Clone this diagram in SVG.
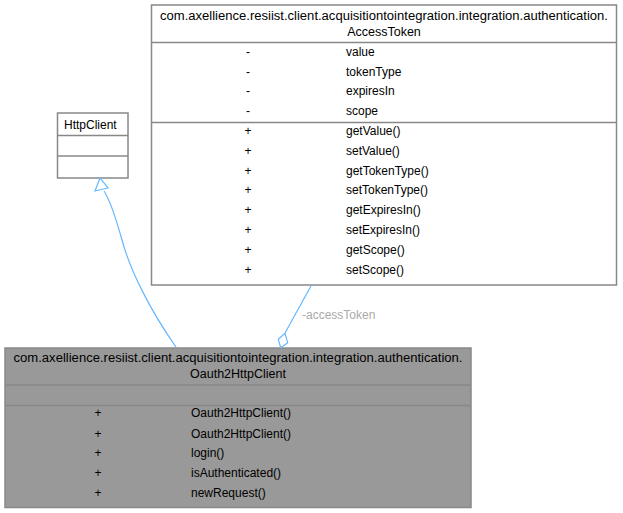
<svg xmlns="http://www.w3.org/2000/svg" width="623" height="513" viewBox="0 0 623 513">
<style>
text{font-family:"Liberation Sans",Arial,sans-serif;font-size:12px;fill:#000}
.t{font-size:12.5px}
.box{stroke:#888;stroke-width:1.5}
.sep{stroke:#888;stroke-width:1.5}
.c{text-anchor:middle}
.edge{fill:none;stroke:#63b8ff;stroke-width:1.2}
.lbl{fill:#aaaaaa}
</style>
<rect width="623" height="513" fill="#fff"/>
<g id="AccessToken">
<rect class="box" x="151.5" y="5" width="465" height="280" fill="#fff"/>
<line class="sep" x1="151.5" y1="42.5" x2="616.5" y2="42.5"/>
<line class="sep" x1="151.5" y1="122.5" x2="616.5" y2="122.5"/>
<text class="c t" x="384" y="20" textLength="448" lengthAdjust="spacingAndGlyphs">com.axellience.resiist.client.acquisitiontointegration.integration.authentication.</text>
<text class="c t" x="384" y="36">AccessToken</text>
<text class="c" x="248" y="56">-</text><text x="346" y="56">value</text>
<text class="c" x="248" y="76">-</text><text x="346" y="76">tokenType</text>
<text class="c" x="248" y="95">-</text><text x="346" y="95">expiresIn</text>
<text class="c" x="248" y="115">-</text><text x="346" y="115">scope</text>
<text class="c" x="248" y="135">+</text><text x="346" y="135">getValue()</text>
<text class="c" x="248" y="155">+</text><text x="346" y="155">setValue()</text>
<text class="c" x="248" y="175">+</text><text x="346" y="175">getTokenType()</text>
<text class="c" x="248" y="194">+</text><text x="346" y="194">setTokenType()</text>
<text class="c" x="248" y="214">+</text><text x="346" y="214">getExpiresIn()</text>
<text class="c" x="248" y="234">+</text><text x="346" y="234">setExpiresIn()</text>
<text class="c" x="248" y="254">+</text><text x="346" y="254">getScope()</text>
<text class="c" x="248" y="274">+</text><text x="346" y="274">setScope()</text>
</g>
<g id="HttpClient">
<rect class="box" x="57.5" y="113" width="70.5" height="65" fill="#fff"/>
<line class="sep" x1="57.5" y1="135.5" x2="128" y2="135.5"/>
<line class="sep" x1="57.5" y1="156" x2="128" y2="156"/>
<text x="64" y="129">HttpClient</text>
</g>
<g id="Oauth2HttpClient">
<rect class="box" x="5" y="348" width="466" height="159.5" fill="#999"/>
<line class="sep" x1="5" y1="385" x2="471" y2="385"/>
<line class="sep" x1="5" y1="405.5" x2="471" y2="405.5"/>
<text class="c t" x="238" y="362" textLength="449" lengthAdjust="spacingAndGlyphs">com.axellience.resiist.client.acquisitiontointegration.integration.authentication.</text>
<text class="c t" x="238" y="378">Oauth2HttpClient</text>
<text class="c" x="98" y="417">+</text><text x="191" y="417">Oauth2HttpClient()</text>
<text class="c" x="98" y="438">+</text><text x="191" y="438">Oauth2HttpClient()</text>
<text class="c" x="98" y="457">+</text><text x="191" y="457">login()</text>
<text class="c" x="98" y="477">+</text><text x="191" y="477">isAuthenticated()</text>
<text class="c" x="98" y="497">+</text><text x="191" y="497">newRequest()</text>
</g>
<g id="connectors">
<path class="edge" d="M176,347 C150,310 130,270 122,240 C115,215 110,200 104,191"/>
<polygon points="100,178 95,191 108,188" fill="#fff" stroke="#63b8ff" stroke-width="1.2"/>
<line class="edge" x1="311.5" y1="285" x2="285" y2="333"/>
<polygon points="285,333.3 287.7,342.7 280.7,347.7 278.3,339.3" fill="#fff" stroke="#63b8ff" stroke-width="1.2"/>
<text class="lbl" x="302" y="319">-accessToken</text>
</g>
</svg>
